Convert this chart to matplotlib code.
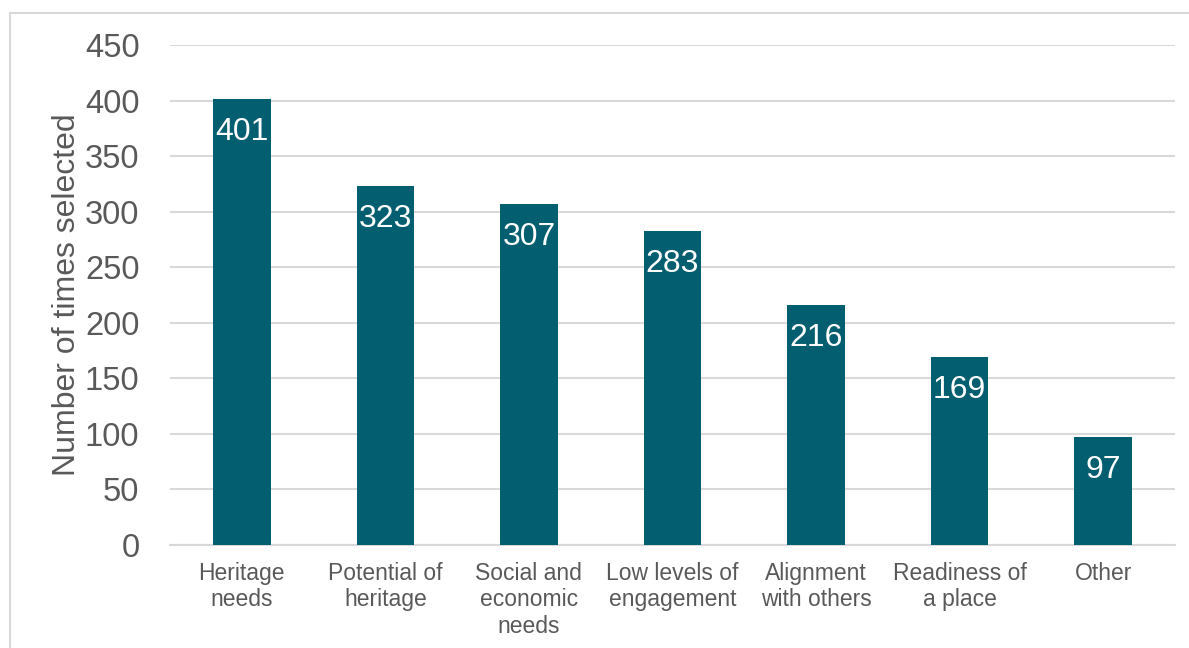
import matplotlib
matplotlib.use("Agg")
import matplotlib.pyplot as plt
from matplotlib.patches import Rectangle

categories = ["Heritage\nneeds", "Potential of\nheritage", "Social and\neconomic\nneeds",
              "Low levels of\nengagement", "Alignment\nwith others", "Readiness of\na place", "Other"]
values = [401, 323, 307, 283, 216, 169, 97]
yticks = [0, 50, 100, 150, 200, 250, 300, 350, 400, 450]

bar_color = "#035E6F"
text_color = "#595959"
grid_color = "#D9D9D9"

plt.rcParams["font.family"] = ["Liberation Sans", "DejaVu Sans"]

fig = plt.figure(figsize=(11.89, 6.48), dpi=100)
W, H = 1189, 648

# light frame around the chart area
fig.patches.append(Rectangle((10 / W, -0.1), 1.2, (648 - 13) / H + 0.1,
                             transform=fig.transFigure, fill=False,
                             edgecolor="#D9D9D9", linewidth=1.5))

ax = fig.add_axes([170 / W, (H - 545) / H, (1175 - 170) / W, 500 / H])
x = list(range(len(categories)))
bars = ax.bar(x, values, width=0.4, color=bar_color, zorder=3)

ax.set_xlim(-0.5, len(categories) - 0.5)
ax.set_ylim(0, 450)
ax.set_yticks(yticks)
ax.set_yticklabels([str(v) for v in yticks], fontsize=23.5, color=text_color)
ax.set_xticks(x)
ax.set_xticklabels(categories, fontsize=16.5, color=text_color, linespacing=1.2)
ax.tick_params(axis="both", length=0)
ax.tick_params(axis="y", pad=22)
ax.tick_params(axis="x", pad=12)

ax.grid(axis="y", color=grid_color, linewidth=1.5, zorder=0)
for s in ["top", "right", "left"]:
    ax.spines[s].set_visible(False)
ax.spines["bottom"].set_color(grid_color)
ax.spines["bottom"].set_linewidth(1.5)

ax.set_ylabel("Number of times selected", fontsize=23, color=text_color, labelpad=2)

for xi, v in zip(x, values):
    ax.annotate(str(v), (xi, v), xytext=(0, -13), textcoords="offset points",
                ha="center", va="top", fontsize=23, color="white", zorder=4)

fig.savefig("out.png", dpi=100)
